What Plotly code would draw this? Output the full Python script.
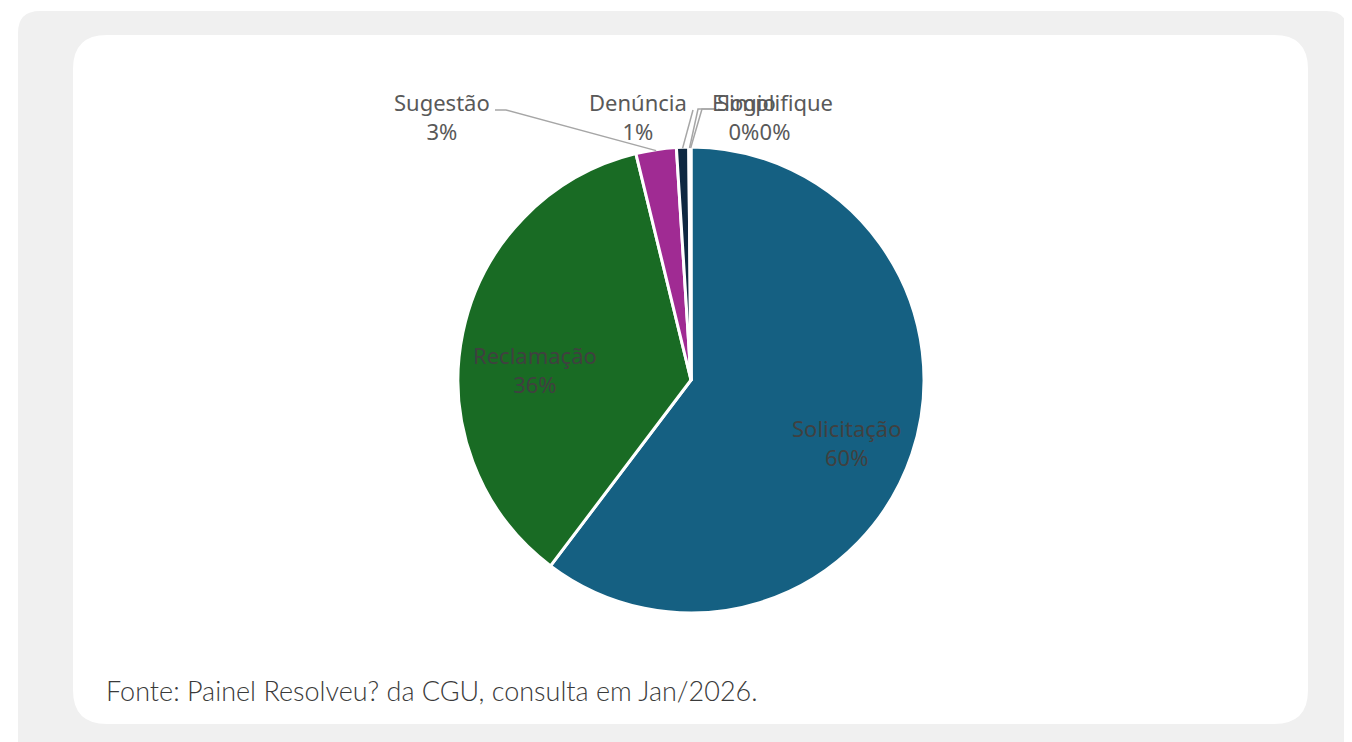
import math
import plotly.graph_objects as go

labels = ["Solicitação", "Reclamação", "Sugestão", "Denúncia", "Elogio", "Simplifique"]
values = [60.3, 35.9, 2.8, 0.85, 0.1, 0.05]
colors = ["#156082", "#196B24", "#A02B93", "#0E2841", "#E97132", "#0F9ED5"]
source = "Fonte: Painel Resolveu? da CGU, consulta em Jan/2026."

W, H = 1352, 742
OFF = 8  # page body margin in the browser; positions below are page pixels
# pie placement (page pixels)
CX, CY, R = 691, 380, 233

# label placement (page pixels): centre of each label block
label_xy = {
    "Solicitação": (846, 443),
    "Reclamação": (535, 370),
    "Sugestão": (442, 117),
    "Denúncia": (638, 117),
    "Elogio": (744, 117),
    "Simplifique": (775, 117),
}
# leader line start and elbow (page pixels) for outside labels
leader = {
    "Sugestão": [(495, 110), (506, 110)],
    "Denúncia": [(693, 110), (693, 110)],
    "Elogio": [(714, 109), (698, 109)],
    "Simplifique": [(716, 109), (702, 109)],
}
inside = {"Solicitação", "Reclamação"}


def fx(x):
    return (x - OFF) / W


def fy(y):
    return 1 - (y - OFF) / H


def P(x, y):
    return f"{fx(x):.5f},{fy(y):.5f}"


def rrect(x0, y0, x1, y1, r):
    return (f"M {P(x0+r,y0)} L {P(x1-r,y0)} Q {P(x1,y0)} {P(x1,y0+r)} "
            f"L {P(x1,y1-r)} Q {P(x1,y1)} {P(x1-r,y1)} L {P(x0+r,y1)} "
            f"Q {P(x0,y1)} {P(x0,y1-r)} L {P(x0,y0+r)} Q {P(x0,y0)} {P(x0+r,y0)} Z")


total = sum(values)
pct = [v / total for v in values]

fig = go.Figure(go.Pie(
    labels=labels, values=values, sort=False, direction="clockwise", rotation=0,
    marker=dict(colors=colors, line=dict(color="white", width=3)),
    textinfo="none",
    domain=dict(x=[fx(CX - R), fx(CX + R)], y=[fy(CY + R), fy(CY - R)]),
    showlegend=False, hoverinfo="label+percent", automargin=False,
))

shapes = [
    dict(type="path", xref="paper", yref="paper", path=rrect(18, 11, 1348, 800, 22),
         fillcolor="#F0F0F0", line=dict(width=0), layer="below"),
    dict(type="path", xref="paper", yref="paper", path=rrect(73, 35, 1308, 724, 34),
         fillcolor="white", line=dict(width=0), layer="below"),
]
annotations = []
cum = 0.0
for lab, p in zip(labels, pct):
    mid = 2 * math.pi * (cum + p / 2)
    cum += p
    tx, ty = label_xy[lab]
    inner = lab in inside
    annotations.append(dict(
        text=f"{lab}<br>{round(p * 100):.0f}%", xref="paper", yref="paper",
        x=fx(tx), y=fy(ty), xanchor="center", yanchor="middle", showarrow=False,
        font=dict(family="Noto Sans", size=22, color="#404040" if inner else "#595959"),
    ))
    if lab in leader:
        ex = CX + (R - 1) * math.sin(mid)
        ey = CY - (R - 1) * math.cos(mid)
        (sx, sy), (bx, by) = leader[lab]
        shapes.append(dict(type="path", xref="paper", yref="paper",
                           path=f"M {P(sx, sy)} L {P(bx, by)} L {P(ex, ey)}",
                           line=dict(color="#A6A6A6", width=1.5), layer="above"))

annotations.append(dict(text=source, xref="paper", yref="paper", x=fx(104), y=fy(690),
                        xanchor="left", yanchor="middle", showarrow=False,
                        font=dict(family="Lato", size=27, weight=300, color="#3A3A3A")))

fig.update_layout(
    width=W, height=H, margin=dict(l=0, r=0, t=0, b=0, autoexpand=False),
    paper_bgcolor="white", plot_bgcolor="white",
    shapes=shapes, annotations=annotations,
)

fig.write_html("out.html")
